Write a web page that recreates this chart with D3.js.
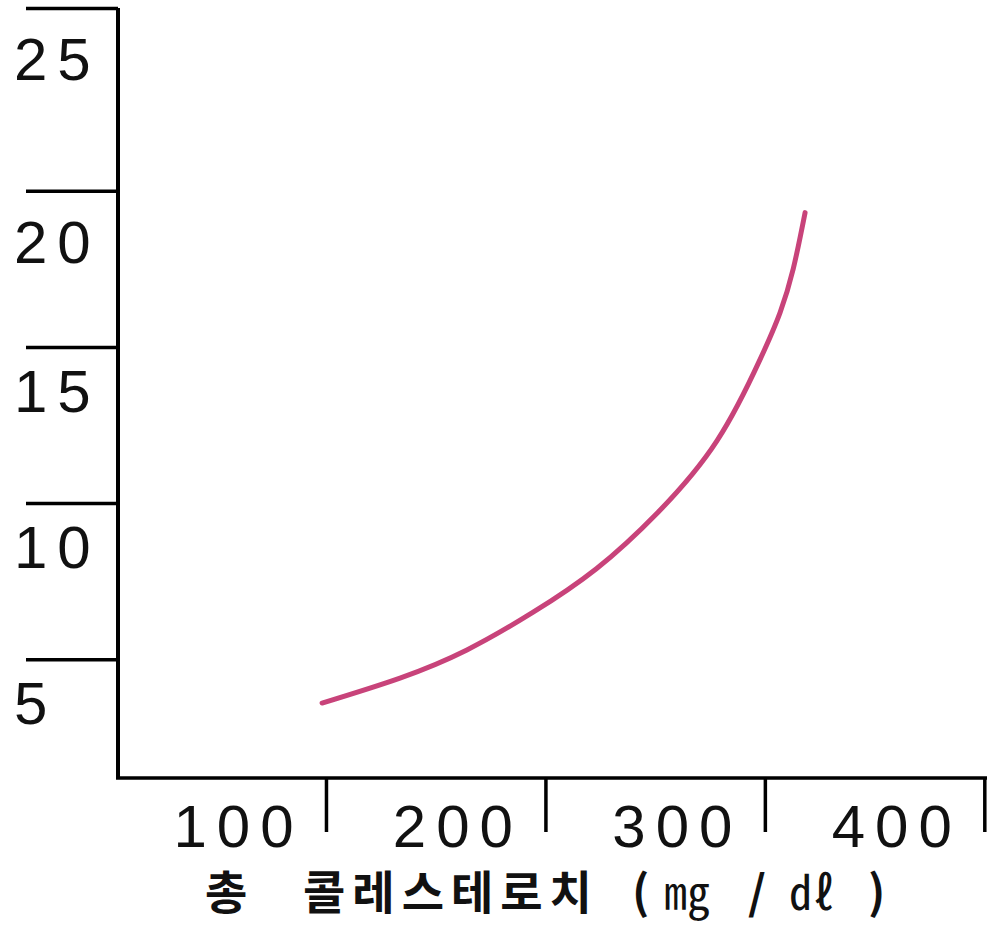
<!DOCTYPE html>
<html>
<head>
<meta charset="utf-8">
<script src="https://cdn.jsdelivr.net/npm/d3@7/dist/d3.min.js"></script>
<style>
  html, body { margin: 0; padding: 0; background: #ffffff; }
  svg { display: block; }
</style>
</head>
<body>
<div id="chart"></div>
<script>
// ---- data ----
const xTickValues = [100, 200, 300, 400];
const xTickLabels = ["100", "200", "300", "400"];
const yTickValues = [25, 20, 15, 10, 5];
const yTickLabels = ["25", "20", "15", "10", "5"];
const cholesterol = [98, 133.5, 164, 194, 223, 251, 278, 297.6, 306.7, 312.7, 318.1];
const risk        = [3.6, 4.4, 5.3, 6.5, 7.9, 9.7, 12.0, 14.6, 16.1, 17.5, 19.3];
const xTitleParts = ["총", "콜레스테로치", "(", "㎎", "/", "㎗", ")"];

// ---- layout ----
const W = 987, H = 925;
const svg = d3.select("#chart").append("svg").attr("width", W).attr("height", H);

const x = d3.scaleLinear().domain([5, 401]).range([118, 987]);
const y = d3.scaleLinear().domain([1.2, 25.85]).range([778, 8]);

const axisColor = "#000";
const numFont = "'Liberation Sans', Arial, sans-serif";

// y axis line
svg.append("line")
  .attr("x1", x(5)).attr("x2", x(5))
  .attr("y1", y(25.85)).attr("y2", y(1.2))
  .attr("stroke", axisColor).attr("stroke-width", 4);

// x axis line
svg.append("line")
  .attr("x1", x(5) - 2).attr("x2", x(401))
  .attr("y1", y(1.2)).attr("y2", y(1.2))
  .attr("stroke", axisColor).attr("stroke-width", 3.5);

// y tick lines (top label belongs to the axis top cap)
const yTickPos = v => v === yTickValues[0] ? y.range()[1] : y(v);
svg.append("g").selectAll("line").data(yTickValues).join("line")
  .attr("x1", 26).attr("x2", x(5))
  .attr("y1", d => yTickPos(d) + 0.5).attr("y2", d => yTickPos(d) + 0.5)
  .attr("stroke", axisColor).attr("stroke-width", 3.5);

svg.append("g").selectAll("text").data(yTickValues).join("text")
  .attr("x", 14)
  .attr("y", (d, i) => yTickPos(d) + (i < 2 ? 72 : 65))
  .attr("font-family", numFont)
  .attr("font-size", 60)
  .attr("letter-spacing", 10)
  .attr("fill", "#111")
  .text((d, i) => yTickLabels[i]);

// x tick marks
svg.append("g").selectAll("line").data(xTickValues).join("line")
  .attr("x1", d => x(d)).attr("x2", d => x(d))
  .attr("y1", y(1.2)).attr("y2", y(1.2) + 54)
  .attr("stroke", axisColor).attr("stroke-width", 3.5);

svg.append("g").selectAll("text").data(xTickValues).join("text")
  .attr("x", d => x(d) - 93 + 5)
  .attr("y", 847)
  .attr("text-anchor", "middle")
  .attr("font-family", numFont)
  .attr("font-size", 60)
  .attr("letter-spacing", 10)
  .attr("fill", "#111")
  .text((d, i) => xTickLabels[i]);

// x axis title
const titleX = [205, 303, 632, 664, 748, 789, 868];
const title = svg.append("text")
  .attr("y", 909)
  .attr("font-family", "'Noto Sans CJK KR', sans-serif")
  .attr("font-weight", "bold")
  .attr("font-size", 46)
  .attr("fill", "#111");
xTitleParts.forEach((t, i) => {
  title.append("tspan")
    .attr("x", titleX[i])
    .attr("letter-spacing", i === 1 ? 7 : 0)
    .attr("font-weight", (i === 3 || i === 5) ? "normal" : "bold")
    .text(t);
});

// curve
const pts = cholesterol.map((c, i) => [c, risk[i]]);
const line = d3.line()
  .x(d => x(d[0]))
  .y(d => y(d[1]))
  .curve(d3.curveNatural);

svg.append("path")
  .datum(pts)
  .attr("d", line)
  .attr("fill", "none")
  .attr("stroke", "#c8437a")
  .attr("stroke-width", 5)
  .attr("stroke-linecap", "round");
</script>
</body>
</html>
